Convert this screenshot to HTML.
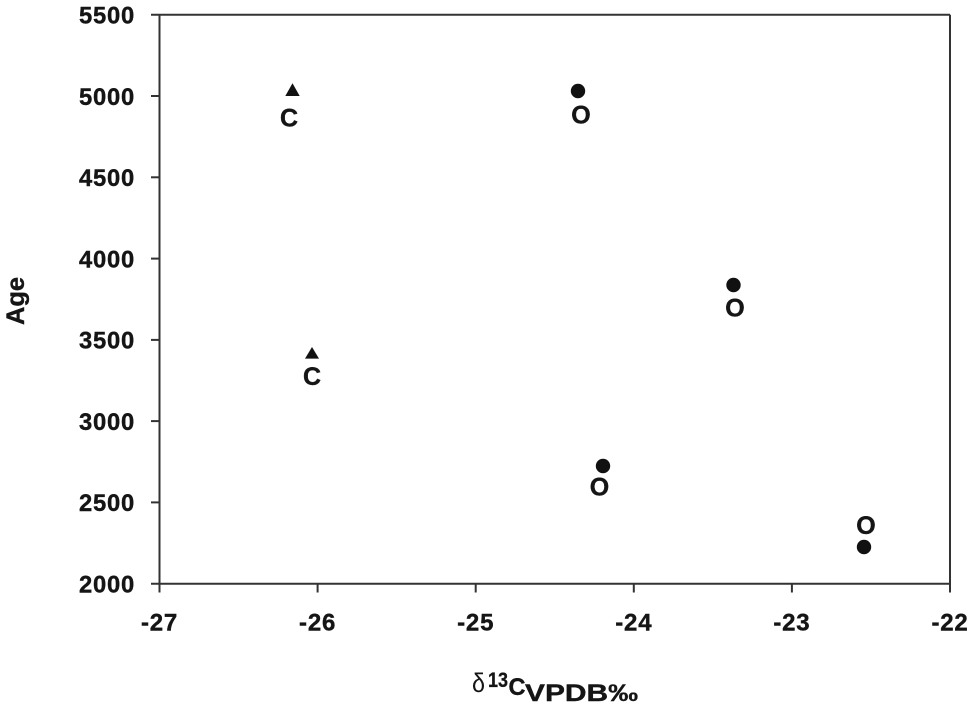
<!DOCTYPE html>
<html>
<head>
<meta charset="utf-8">
<style>
  html, body { margin: 0; padding: 0; background: #ffffff; }
  svg { display: block; }
  text { font-family: "Liberation Sans", Arial, sans-serif; fill: #151515; }
  .tick { font-size: 24px; font-weight: bold; letter-spacing: 0.8px; stroke: #151515; stroke-width: 0.4px; }
  .lbl { font-size: 25px; font-weight: bold; stroke: #151515; stroke-width: 0.4px; }
</style>
</head>
<body>
<svg width="974" height="706" viewBox="0 0 974 706" xmlns="http://www.w3.org/2000/svg">
  <rect x="0" y="0" width="974" height="706" fill="#ffffff"/>
  <!-- frame -->
  <g stroke="#333333" stroke-width="2" fill="none">
    <line x1="151" y1="14.7" x2="950" y2="14.7"/>
    <line x1="151" y1="583.7" x2="950" y2="583.7"/>
    <line x1="159.5" y1="14.7" x2="159.5" y2="592.5"/>
    <line x1="950" y1="14.7" x2="950" y2="592.5"/>
    <!-- y ticks -->
    <line x1="151" y1="96" x2="159.5" y2="96"/>
    <line x1="151" y1="177.3" x2="159.5" y2="177.3"/>
    <line x1="151" y1="258.6" x2="159.5" y2="258.6"/>
    <line x1="151" y1="339.9" x2="159.5" y2="339.9"/>
    <line x1="151" y1="421.1" x2="159.5" y2="421.1"/>
    <line x1="151" y1="502.4" x2="159.5" y2="502.4"/>
    <!-- x ticks -->
    <line x1="317.6" y1="583.7" x2="317.6" y2="592.5"/>
    <line x1="475.7" y1="583.7" x2="475.7" y2="592.5"/>
    <line x1="633.8" y1="583.7" x2="633.8" y2="592.5"/>
    <line x1="791.9" y1="583.7" x2="791.9" y2="592.5"/>
  </g>

  <!-- y tick labels -->
  <g text-anchor="end">
    <text class="tick" x="135" y="23.5" textLength="56" lengthAdjust="spacingAndGlyphs">5500</text>
    <text class="tick" x="135" y="104.8" textLength="56" lengthAdjust="spacingAndGlyphs">5000</text>
    <text class="tick" x="135" y="186.1" textLength="56" lengthAdjust="spacingAndGlyphs">4500</text>
    <text class="tick" x="135" y="267.4" textLength="56" lengthAdjust="spacingAndGlyphs">4000</text>
    <text class="tick" x="135" y="348.7" textLength="56" lengthAdjust="spacingAndGlyphs">3500</text>
    <text class="tick" x="135" y="429.9" textLength="56" lengthAdjust="spacingAndGlyphs">3000</text>
    <text class="tick" x="135" y="511.2" textLength="56" lengthAdjust="spacingAndGlyphs">2500</text>
    <text class="tick" x="135" y="592.5" textLength="56" lengthAdjust="spacingAndGlyphs">2000</text>
  </g>

  <!-- x tick labels -->
  <g text-anchor="middle">
    <text class="tick" x="159.5" y="630.5">-27</text>
    <text class="tick" x="317.6" y="630.5">-26</text>
    <text class="tick" x="475.7" y="630.5">-25</text>
    <text class="tick" x="633.8" y="630.5">-24</text>
    <text class="tick" x="791.9" y="630.5">-23</text>
    <text class="tick" x="950" y="630.5">-22</text>
  </g>

  <!-- axis titles -->
  <text class="lbl" x="0" y="0" text-anchor="middle" transform="translate(24,301) rotate(-90)" style="font-size:25px" textLength="48" lengthAdjust="spacingAndGlyphs">Age</text>

  <text x="472" y="692" style="font-size:27px; font-weight:normal" textLength="13" lengthAdjust="spacingAndGlyphs">δ</text>
  <text x="488" y="687" style="font-size:21px; font-weight:bold; stroke:#151515; stroke-width:0.3px" textLength="20" lengthAdjust="spacingAndGlyphs">13</text>
  <text x="508.5" y="695" style="font-size:24px; font-weight:bold; stroke:#151515; stroke-width:0.4px" textLength="17" lengthAdjust="spacingAndGlyphs">C</text>
  <text x="525" y="701" style="font-size:24px; font-weight:bold; stroke:#151515; stroke-width:0.4px" textLength="113" lengthAdjust="spacingAndGlyphs">VPDB‰</text>

  <!-- data markers -->
  <g fill="#111111">
    <polygon points="292.5,83.3 285.3,96 299.7,96"/>
    <polygon points="312,347 305,358.6 319,358.6"/>
    <circle cx="578" cy="91" r="7.2"/>
    <circle cx="733.5" cy="285" r="7.2"/>
    <circle cx="603" cy="466" r="7.2"/>
    <circle cx="864" cy="547" r="7.2"/>
  </g>

  <!-- point labels -->
  <g text-anchor="middle">
    <text class="lbl" x="289" y="126.7">C</text>
    <text class="lbl" x="312" y="385">C</text>
    <text class="lbl" x="581" y="123.5">O</text>
    <text class="lbl" x="735" y="316.3">O</text>
    <text class="lbl" x="599.5" y="495.5">O</text>
    <text class="lbl" x="866" y="533.8">O</text>
  </g>
</svg>
</body>
</html>
